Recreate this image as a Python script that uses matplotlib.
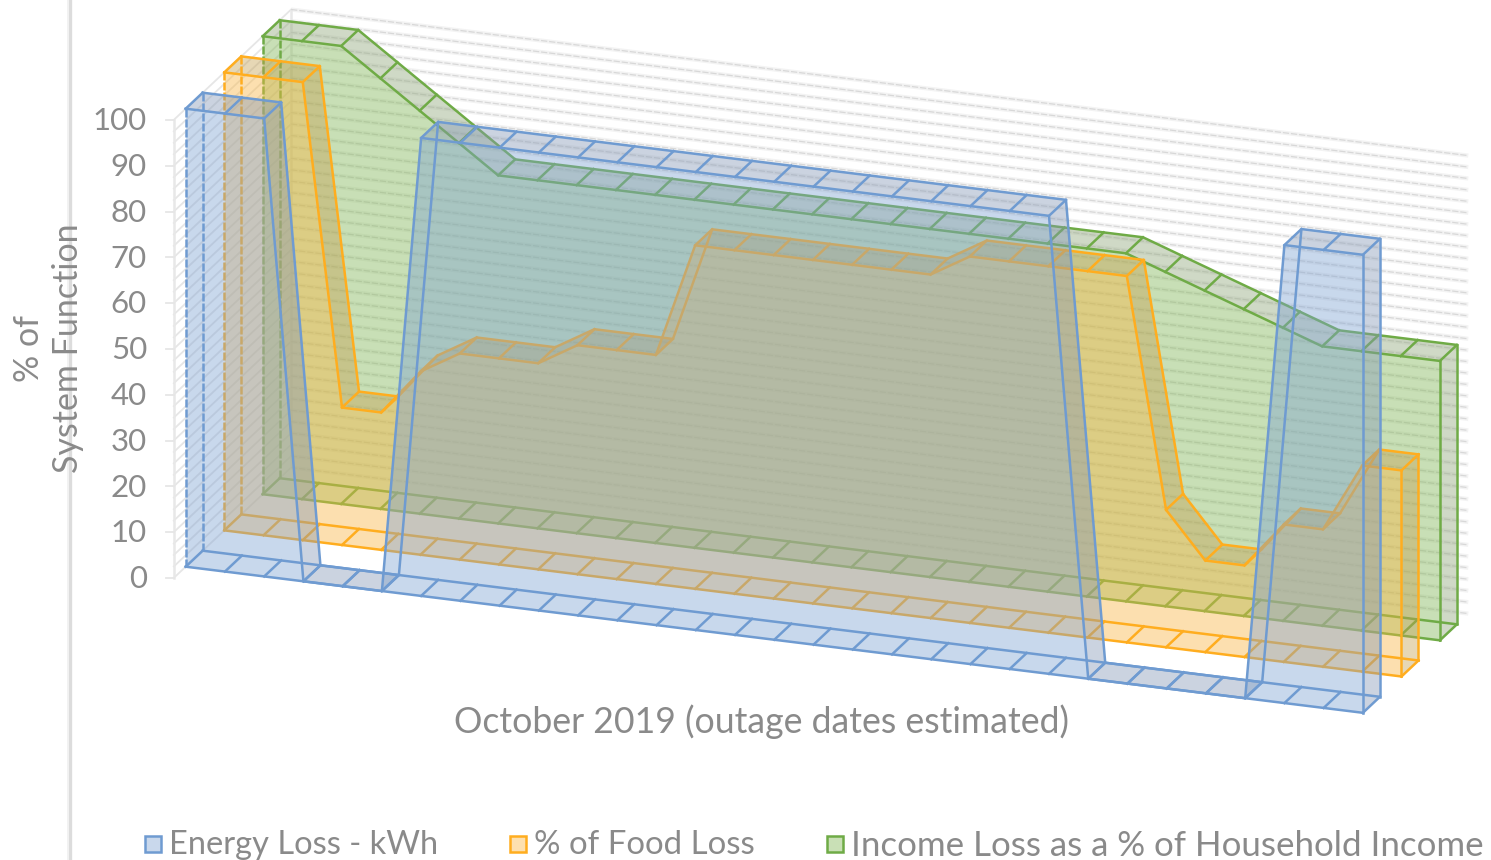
import numpy as np
import matplotlib
matplotlib.use("Agg")
import matplotlib.pyplot as plt
from matplotlib.patches import Rectangle

# values, one per day of October
energy_loss = [100, 100, 100, 0, 0, 0, 100, 100, 100, 100, 100, 100, 100, 100, 100, 100,
               100, 100, 100, 100, 100, 100, 100, 0, 0, 0, 0, 0, 100, 100, 100]
food_loss = [100, 100, 100, 30, 30, 40, 45, 45, 45, 50, 50, 50, 75, 75, 75, 75,
             75, 75, 75, 80, 80, 80, 80, 80, 30, 20, 20, 30, 30, 45, 45]
income_loss = [100, 100, 100, 94, 88, 82, 76, 76, 76, 76, 76, 76, 76, 76, 76, 76,
               76, 76, 76, 76, 76, 76, 76, 73, 70, 67, 64, 61, 61, 61, 61]
series_names = ["Energy Loss - kWh", "% of Food Loss", "Income Loss as a % of Household Income"]
y_ticks = [0, 10, 20, 30, 40, 50, 60, 70, 80, 90, 100]
minor_step = 2.5

FONT = ["Lato", "DejaVu Sans"]
TEXT_COLOR = "#8a8a8a"

# oblique projection of (day, value, depth) into image pixels
ORIGIN = (185.7, 566.7)
DAY_VEC = (39.24, 4.87)
DEPTH_VEC = (17.0, -16.0)
VALUE_PX = 4.58
ALPHA = 0.42


def project(day, value, depth):
    day = np.asarray(day, dtype=float)
    value = np.asarray(value, dtype=float)
    x = ORIGIN[0] + day * DAY_VEC[0] + depth * DEPTH_VEC[0]
    y = ORIGIN[1] + day * DAY_VEC[1] + depth * DEPTH_VEC[1] - value * VALUE_PX
    return x, y


def top_is_visible(v0, v1):
    """The top strip of a segment only faces the viewer if it isn't rising too fast."""
    dy = DAY_VEC[1] - (v1 - v0) * VALUE_PX
    return DAY_VEC[0] * DEPTH_VEC[1] - dy * DEPTH_VEC[0] < 0


def draw_walls(ax):
    days = np.array([0, 30])
    front, back = -0.7, 6.2
    for v in np.arange(0, 100 + minor_step, minor_step):
        # back wall
        x, y = project(days, [v, v], back)
        ax.plot(x, y, color="#f3f3f3", lw=3.0, zorder=1, solid_capstyle="butt")
        ax.plot(x, y, color="#d8d8d8", lw=0.9, ls=(0, (5, 1.5)), zorder=1.1)
        # side wall
        x0, y0 = project(0, v, front)
        x1, y1 = project(0, v, back)
        ax.plot([x0, x1], [y0, y1], color="#e6e6e6", lw=1.3, zorder=1)
    for d in (front, back):
        x, y = project([0, 0], [0, 100], d)
        ax.plot(x, y, color="#e8e8e8", lw=1.8, zorder=1)
    # tick stubs and tick labels
    for v in y_ticks:
        x, y = project(0, v, front)
        ax.plot([x - 8, x], [y, y], color="#e6e6e6", lw=1.3, zorder=1)
        ax.text(147, y + 1.2, str(v), ha="right", va="center", fontsize=22.5,
                color=TEXT_COLOR, family=FONT)


def draw_series(ax, values, depth, fill, shade, line, z):
    values = np.array(values, dtype=float)
    days = np.arange(len(values))
    back_depth = depth + 1
    lw = 1.8

    xf, yf = project(days, values, depth)
    xb, yb = project(days, values, back_depth)
    xf0, yf0 = project(days, 0, depth)
    xb0, yb0 = project(days, 0, back_depth)

    # front face
    ax.fill_between(xf, yf0, yf, color=fill, alpha=ALPHA, lw=0, zorder=z)

    # strips along the top, one per day
    for i in days[:-1]:
        qx = [xf[i], xf[i + 1], xb[i + 1], xb[i]]
        qy = [yf[i], yf[i + 1], yb[i + 1], yb[i]]
        if top_is_visible(values[i], values[i + 1]):
            ax.fill(qx, qy, color=shade, alpha=ALPHA, lw=0, zorder=z)

    # end cap on the right
    ax.fill([xf0[-1], xb0[-1], xb[-1], xf[-1]], [yf0[-1], yb0[-1], yb[-1], yf[-1]],
            color=shade, alpha=ALPHA, lw=0, zorder=z)

    # outlines
    line_kw = dict(color=line, lw=lw, zorder=z + 0.1, solid_joinstyle="round")
    ax.plot(xf, yf, **line_kw)
    ax.plot(xb, yb, **line_kw)
    ax.plot(xf0, yf0, **line_kw)
    ax.plot(xb0, yb0, **line_kw)
    for i in days:
        ax.plot([xf[i], xb[i]], [yf[i], yb[i]], **line_kw)
        ax.plot([xf0[i], xb0[i]], [yf0[i], yb0[i]], **line_kw)
    # left edges look broken up by the wall behind them, right edges don't
    dash_kw = dict(color=line, lw=lw, ls=(0, (3.2, 0.8)), zorder=z + 0.1)
    ax.plot([xf[0], xf0[0]], [yf[0], yf0[0]], **dash_kw)
    ax.plot([xb[0], xb0[0]], [yb[0], yb0[0]], **dash_kw)
    ax.plot([xf[-1], xf0[-1]], [yf[-1], yf0[-1]], **line_kw)
    ax.plot([xb[-1], xb0[-1]], [yb[-1], yb0[-1]], **line_kw)


def draw_text(ax):
    ax.text(761, 722, "October 2019 (outage dates estimated)", ha="center", va="center",
            fontsize=25.7, color=TEXT_COLOR, family=FONT)
    ax.text(29, 348, "% of", ha="center", va="center", rotation=90,
            fontsize=24.5, color=TEXT_COLOR, family=FONT)
    ax.text(68, 348, "System Function", ha="center", va="center", rotation=90,
            fontsize=24.5, color=TEXT_COLOR, family=FONT)

    legend_style = [("#c9d8ec", "#6f9bd1"), ("#fde0af", "#ffad1f"), ("#c9e0b6", "#6fab46")]
    box_x = [144, 509, 826]
    legend_size = [23.5, 23.8, 25.1]
    for name, (face, edge), bx, size in zip(series_names, legend_style, box_x, legend_size):
        ax.add_patch(Rectangle((bx + 1, 836), 16, 16, facecolor=face, edgecolor=edge, lw=1.8))
        ax.text(bx + 25, 845.5, name, ha="left", va="center", fontsize=size,
                color=TEXT_COLOR, family=FONT)


def main():
    fig = plt.figure(figsize=(14.91, 8.60), dpi=100)
    ax = fig.add_axes([0, 0, 1, 1])
    ax.set_xlim(0, 1491)
    ax.set_ylim(860, 0)
    ax.axis("off")

    # panel edge on the left
    ax.axvline(70, color="#dcdcdc", lw=2.4)
    ax.axvline(68.3, color="#f0f0f0", lw=1.2)

    draw_walls(ax)
    draw_series(ax, income_loss, 4.53, "#7eb551", "#8ea678", "#6fab46", 2)
    draw_series(ax, food_loss, 2.27, "#fab541", "#c4a050", "#ffad1f", 3)
    draw_series(ax, energy_loss, 0.0, "#7ea2d2", "#8498b6", "#6f9bd1", 4)
    draw_text(ax)

    fig.savefig("out.png", dpi=100)


if __name__ == "__main__":
    main()
